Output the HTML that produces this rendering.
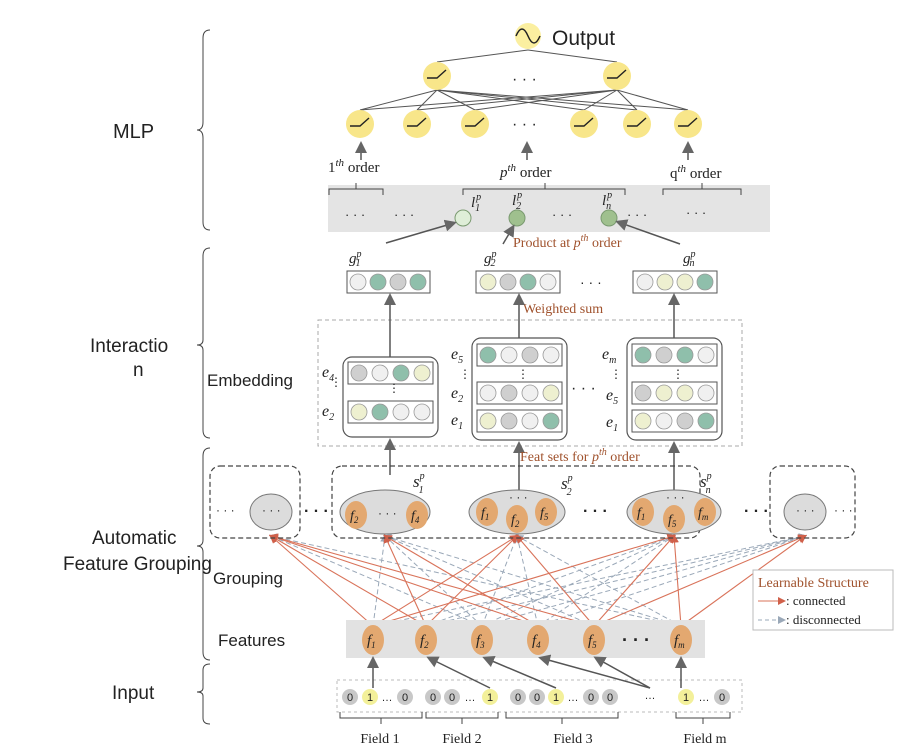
<!DOCTYPE html>
<html><head><meta charset="utf-8"><style>
body{margin:0;background:#fff}
svg{display:block}
.s{font-family:"Liberation Sans",sans-serif;fill:#222}
.r{font-family:"Liberation Serif",serif;fill:#222}
.b{font-family:"Liberation Serif",serif;fill:#a0522d}
.i{font-family:"Liberation Serif",serif;font-style:italic;fill:#222}
</style></head><body>
<svg width="923" height="756" viewBox="0 0 923 756" xmlns="http://www.w3.org/2000/svg">
<defs>
<marker id="ag" markerWidth="8" markerHeight="8" refX="6" refY="4" orient="auto"><path d="M0,0 L8,4 L0,8 z" fill="#666"/></marker>
<marker id="ar" markerWidth="8" markerHeight="8" refX="6" refY="4" orient="auto"><path d="M0,0 L8,4 L0,8 z" fill="#d0604a"/></marker>
<marker id="ab" markerWidth="8" markerHeight="8" refX="6" refY="4" orient="auto"><path d="M0,0 L8,4 L0,8 z" fill="#9aa8b8"/></marker>
</defs>
<!-- braces -->
<g fill="none" stroke="#444" stroke-width="1">
<path d="M210,30 Q203,30 203,38 L203,122 Q203,130 197,130 Q203,130 203,138 L203,222 Q203,230 210,230"/>
<path d="M210,248 Q203,248 203,256 L203,340 Q203,345 197,345 Q203,345 203,350 L203,430 Q203,438 210,438"/>
<path d="M210,448 Q203,448 203,456 L203,540 Q203,546 197,546 Q203,546 203,552 L203,652 Q203,660 210,660"/>
<path d="M210,664 Q203,664 203,670 L203,688 Q203,692 197,692 Q203,692 203,696 L203,718 Q203,724 210,724"/>
</g>
<text class="s" x="113" y="138" font-size="20">MLP</text>
<text class="s" x="90" y="352" font-size="19">Interactio</text>
<text class="s" x="133" y="376" font-size="19">n</text>
<text class="s" x="207" y="386" font-size="17">Embedding</text>
<text class="s" x="92" y="544" font-size="19">Automatic</text>
<text class="s" x="63" y="570" font-size="19">Feature Grouping</text>
<text class="s" x="213" y="584" font-size="17">Grouping</text>
<text class="s" x="218" y="646" font-size="17">Features</text>
<text class="s" x="112" y="699" font-size="19">Input</text>

<!-- MLP -->
<circle cx="528" cy="36" r="13" fill="#fbefa0"/>
<path d="M516,36 Q522,22 528,36 Q534,50 540,36" fill="none" stroke="#222" stroke-width="1.5"/>
<text class="s" x="552" y="45" font-size="21">Output</text>
<g stroke="#555" stroke-width="1">
<line x1="437" y1="62" x2="528" y2="50"/><line x1="617" y1="62" x2="528" y2="50"/>
<line x1="437" y1="90" x2="360" y2="110"/><line x1="437" y1="90" x2="417" y2="110"/><line x1="437" y1="90" x2="475" y2="110"/><line x1="437" y1="90" x2="584" y2="110"/><line x1="437" y1="90" x2="637" y2="110"/><line x1="437" y1="90" x2="688" y2="110"/>
<line x1="617" y1="90" x2="360" y2="110"/><line x1="617" y1="90" x2="417" y2="110"/><line x1="617" y1="90" x2="475" y2="110"/><line x1="617" y1="90" x2="584" y2="110"/><line x1="617" y1="90" x2="637" y2="110"/><line x1="617" y1="90" x2="688" y2="110"/>
</g>
<g fill="#f8e68a">
<circle cx="437" cy="76" r="14"/><circle cx="617" cy="76" r="14"/>
<circle cx="360" cy="124" r="14"/><circle cx="417" cy="124" r="14"/><circle cx="475" cy="124" r="14"/><circle cx="584" cy="124" r="14"/><circle cx="637" cy="124" r="14"/><circle cx="688" cy="124" r="14"/>
</g>
<g fill="none" stroke="#222" stroke-width="1.4">
<path d="M427,78 L437,78 L446,70"/><path d="M607,78 L617,78 L626,70"/>
<path d="M350,126 L360,126 L369,118"/><path d="M407,126 L417,126 L426,118"/><path d="M465,126 L475,126 L484,118"/><path d="M574,126 L584,126 L593,118"/><path d="M627,126 L637,126 L646,118"/><path d="M678,126 L688,126 L697,118"/>
</g>
<text class="s" x="512" y="84" font-size="16">· · ·</text>
<text class="s" x="512" y="129" font-size="16">· · ·</text>
<g stroke="#555" stroke-width="1.5" marker-end="url(#ag)">
<line x1="361" y1="160" x2="361" y2="144"/><line x1="527" y1="160" x2="527" y2="144"/><line x1="688" y1="160" x2="688" y2="144"/>
</g>
<text class="r" x="328" y="172" font-size="15">1<tspan font-style="italic" font-size="11" dy="-6">th</tspan><tspan dy="6"> order</tspan></text>
<text class="r" x="500" y="177" font-size="15"><tspan font-style="italic">p</tspan><tspan font-style="italic" font-size="11" dy="-6">th</tspan><tspan dy="6"> order</tspan></text>
<text class="r" x="670" y="178" font-size="15">q<tspan font-style="italic" font-size="11" dy="-6">th</tspan><tspan dy="6"> order</tspan></text>
<rect x="328" y="185" width="442" height="47" fill="#e4e4e4"/>
<g fill="none" stroke="#444" stroke-width="1">
<path d="M329,195 L329,189 L383,189 L383,195 M356,189 L356,183"/>
<path d="M463,195 L463,189 L625,189 L625,195 M545,189 L545,183"/>
<path d="M663,195 L663,189 L741,189 L741,195 M702,189 L702,183"/>
</g>
<text class="s" x="345" y="219" font-size="13">· · ·</text><text class="s" x="394" y="219" font-size="13">· · ·</text>
<text class="s" x="552" y="219" font-size="13">· · ·</text><text class="s" x="627" y="219" font-size="13">· · ·</text><text class="s" x="686" y="217" font-size="13">· · ·</text>
<circle cx="463" cy="218" r="8" fill="#dfeed8" stroke="#7a9a70"/>
<circle cx="517" cy="218" r="8" fill="#9fc08e" stroke="#7a9a70"/>
<circle cx="609" cy="218" r="8" fill="#9fc08e" stroke="#7a9a70"/>
<text class="i" x="471" y="207" font-size="15">l<tspan font-size="10" dy="-7" dx="1">p</tspan><tspan font-size="10" dy="11" dx="-6">1</tspan></text>
<text class="i" x="512" y="205" font-size="15">l<tspan font-size="10" dy="-7" dx="1">p</tspan><tspan font-size="10" dy="11" dx="-6">2</tspan></text>
<text class="i" x="602" y="205" font-size="15">l<tspan font-size="10" dy="-7" dx="1">p</tspan><tspan font-size="10" dy="11" dx="-6">n</tspan></text>
<!-- product arrows -->
<g stroke="#555" stroke-width="1.5" fill="none" marker-end="url(#ag)">
<line x1="386" y1="243" x2="454" y2="223"/><line x1="503" y1="244" x2="513" y2="227"/><line x1="680" y1="244" x2="618" y2="222"/>
</g>
<text class="b" x="513" y="247" font-size="14">Product at <tspan font-style="italic">p</tspan><tspan font-style="italic" font-size="10" dy="-6">th</tspan><tspan dy="6"> order</tspan></text>
<!-- g vectors -->
<text class="i" x="349" y="263" font-size="15">g<tspan font-size="10" dy="-6">p</tspan><tspan font-size="10" dy="9" dx="-6">1</tspan></text>
<text class="i" x="484" y="263" font-size="15">g<tspan font-size="10" dy="-6">p</tspan><tspan font-size="10" dy="9" dx="-6">2</tspan></text>
<text class="i" x="683" y="263" font-size="15">g<tspan font-size="10" dy="-6">p</tspan><tspan font-size="10" dy="9" dx="-6">n</tspan></text>
<g stroke="#555" fill="#fff">
<rect x="347" y="271" width="83" height="22"/><rect x="476" y="271" width="84" height="22"/><rect x="633" y="271" width="84" height="22"/>
</g>
<g stroke="#999" stroke-width="0.8">
<circle cx="358" cy="282" r="8" fill="#f0f0f0"/><circle cx="378" cy="282" r="8" fill="#8fbfab"/><circle cx="398" cy="282" r="8" fill="#cfcfcf"/><circle cx="418" cy="282" r="8" fill="#8fbfab"/>
<circle cx="488" cy="282" r="8" fill="#eef0d0"/><circle cx="508" cy="282" r="8" fill="#cfcfcf"/><circle cx="528" cy="282" r="8" fill="#8fbfab"/><circle cx="548" cy="282" r="8" fill="#f0f0f0"/>
<circle cx="645" cy="282" r="8" fill="#f0f0f0"/><circle cx="665" cy="282" r="8" fill="#eef0d0"/><circle cx="685" cy="282" r="8" fill="#eef0d0"/><circle cx="705" cy="282" r="8" fill="#8fbfab"/>
</g>
<text class="s" x="580" y="287" font-size="14">· · ·</text>
<text class="b" x="523" y="313" font-size="14">Weighted  sum</text>
<rect x="318" y="320" width="424" height="126" fill="none" stroke="#aaa" stroke-dasharray="4,3"/>
<g stroke="#555" stroke-width="1.5" marker-end="url(#ag)">
<line x1="390" y1="357" x2="390" y2="296"/><line x1="519" y1="338" x2="519" y2="296"/><line x1="674" y1="338" x2="674" y2="296"/>
<line x1="390" y1="475" x2="390" y2="441"/><line x1="519" y1="490" x2="519" y2="444"/><line x1="674" y1="490" x2="674" y2="444"/>
</g>
<g fill="#fff" stroke="#555" stroke-width="1.2">
<rect x="343" y="357" width="95" height="80" rx="9"/><rect x="472" y="338" width="95" height="102" rx="9"/><rect x="627" y="338" width="95" height="102" rx="9"/>
</g>
<g fill="none" stroke="#555">
<rect x="348" y="362" width="85" height="22"/><rect x="348" y="401" width="85" height="22"/>
<rect x="477" y="344" width="85" height="22"/><rect x="477" y="382" width="85" height="22"/><rect x="477" y="410" width="85" height="22"/>
<rect x="632" y="344" width="85" height="22"/><rect x="632" y="382" width="85" height="22"/><rect x="632" y="410" width="85" height="22"/>
</g>
<g stroke="#999" stroke-width="0.8">
<circle cx="359" cy="373" r="8" fill="#cfcfcf"/><circle cx="380" cy="373" r="8" fill="#f0f0f0"/><circle cx="401" cy="373" r="8" fill="#8fbfab"/><circle cx="422" cy="373" r="8" fill="#eef0d0"/>
<circle cx="359" cy="412" r="8" fill="#eef0d0"/><circle cx="380" cy="412" r="8" fill="#8fbfab"/><circle cx="401" cy="412" r="8" fill="#f0f0f0"/><circle cx="422" cy="412" r="8" fill="#f0f0f0"/>
<circle cx="488" cy="355" r="8" fill="#8fbfab"/><circle cx="509" cy="355" r="8" fill="#f0f0f0"/><circle cx="530" cy="355" r="8" fill="#cfcfcf"/><circle cx="551" cy="355" r="8" fill="#f0f0f0"/>
<circle cx="488" cy="393" r="8" fill="#f0f0f0"/><circle cx="509" cy="393" r="8" fill="#cfcfcf"/><circle cx="530" cy="393" r="8" fill="#f0f0f0"/><circle cx="551" cy="393" r="8" fill="#eef0d0"/>
<circle cx="488" cy="421" r="8" fill="#eef0d0"/><circle cx="509" cy="421" r="8" fill="#cfcfcf"/><circle cx="530" cy="421" r="8" fill="#f0f0f0"/><circle cx="551" cy="421" r="8" fill="#8fbfab"/>
<circle cx="643" cy="355" r="8" fill="#8fbfab"/><circle cx="664" cy="355" r="8" fill="#cfcfcf"/><circle cx="685" cy="355" r="8" fill="#8fbfab"/><circle cx="706" cy="355" r="8" fill="#f0f0f0"/>
<circle cx="643" cy="393" r="8" fill="#cfcfcf"/><circle cx="664" cy="393" r="8" fill="#eef0d0"/><circle cx="685" cy="393" r="8" fill="#eef0d0"/><circle cx="706" cy="393" r="8" fill="#f0f0f0"/>
<circle cx="643" cy="421" r="8" fill="#eef0d0"/><circle cx="664" cy="421" r="8" fill="#f0f0f0"/><circle cx="685" cy="421" r="8" fill="#cfcfcf"/><circle cx="706" cy="421" r="8" fill="#8fbfab"/>
</g>
<g class="i" font-size="16">
<text x="322" y="377">e<tspan font-size="10" dy="4">4</tspan></text><text x="322" y="416">e<tspan font-size="10" dy="4">2</tspan></text>
<text x="451" y="359">e<tspan font-size="10" dy="4">5</tspan></text><text x="451" y="398">e<tspan font-size="10" dy="4">2</tspan></text><text x="451" y="425">e<tspan font-size="10" dy="4">1</tspan></text>
<text x="602" y="359">e<tspan font-size="10" dy="4">m</tspan></text><text x="606" y="400">e<tspan font-size="10" dy="4">5</tspan></text><text x="606" y="427">e<tspan font-size="10" dy="4">1</tspan></text>
</g>
<g class="s" font-size="12"><text x="330" y="386">⋮</text><text x="459" y="378">⋮</text><text x="388" y="392">⋮</text><text x="517" y="378">⋮</text><text x="610" y="378">⋮</text><text x="672" y="378">⋮</text></g>
<text class="s" x="571" y="393" font-size="16">· · ·</text>
<text class="b" x="520" y="461" font-size="14">Feat sets for <tspan font-style="italic">p</tspan><tspan font-style="italic" font-size="10" dy="-6">th</tspan><tspan dy="6"> order</tspan></text>

<!-- grouping lines -->
<g stroke="#9aa8b8" stroke-width="1" stroke-dasharray="5,3" marker-end="url(#ab)">
<line x1="373" y1="626" x2="385" y2="536"/><line x1="373" y1="626" x2="805" y2="536"/>
<line x1="426" y1="626" x2="674" y2="536"/><line x1="426" y1="626" x2="805" y2="536"/>
<line x1="482" y1="626" x2="271" y2="536"/><line x1="482" y1="626" x2="385" y2="536"/><line x1="482" y1="626" x2="517" y2="536"/><line x1="482" y1="626" x2="674" y2="536"/><line x1="482" y1="626" x2="805" y2="536"/>
<line x1="538" y1="626" x2="517" y2="536"/><line x1="538" y1="626" x2="674" y2="536"/><line x1="538" y1="626" x2="805" y2="536"/>
<line x1="594" y1="626" x2="385" y2="536"/>
<line x1="681" y1="626" x2="271" y2="536"/><line x1="681" y1="626" x2="385" y2="536"/><line x1="681" y1="626" x2="517" y2="536"/>
</g>
<g stroke="#d9735a" stroke-width="1.1" marker-end="url(#ar)">
<line x1="373" y1="626" x2="271" y2="536"/><line x1="373" y1="626" x2="517" y2="536"/><line x1="373" y1="626" x2="674" y2="536"/>
<line x1="426" y1="626" x2="271" y2="536"/><line x1="426" y1="626" x2="385" y2="536"/><line x1="426" y1="626" x2="517" y2="536"/>
<line x1="538" y1="626" x2="271" y2="536"/><line x1="538" y1="626" x2="385" y2="536"/>
<line x1="594" y1="626" x2="271" y2="536"/><line x1="594" y1="626" x2="517" y2="536"/><line x1="594" y1="626" x2="674" y2="536"/><line x1="594" y1="626" x2="805" y2="536"/>
<line x1="681" y1="626" x2="674" y2="536"/><line x1="681" y1="626" x2="805" y2="536"/>
</g>
<!-- grouping -->
<g fill="none" stroke="#444" stroke-width="1.2" stroke-dasharray="5,3">
<rect x="210" y="466" width="90" height="72" rx="10"/><rect x="332" y="466" width="368" height="72" rx="10"/><rect x="770" y="466" width="85" height="72" rx="10"/>
</g>
<g fill="#dcdcdc" stroke="#777">
<ellipse cx="271" cy="512" rx="21" ry="18"/><ellipse cx="385" cy="512" rx="45" ry="22"/><ellipse cx="517" cy="512" rx="48" ry="22"/><ellipse cx="674" cy="512" rx="47" ry="22"/><ellipse cx="805" cy="512" rx="21" ry="18"/>
</g>
<g fill="#e3a870">
<ellipse cx="356" cy="515" rx="11" ry="14"/><ellipse cx="417" cy="515" rx="11" ry="14"/>
<ellipse cx="487" cy="512" rx="11" ry="14"/><ellipse cx="517" cy="519" rx="11" ry="14"/><ellipse cx="546" cy="512" rx="11" ry="14"/>
<ellipse cx="643" cy="512" rx="11" ry="14"/><ellipse cx="674" cy="519" rx="11" ry="14"/><ellipse cx="705" cy="512" rx="11" ry="14"/>
</g>
<g class="i" font-size="14">
<text x="350" y="520">f<tspan font-size="9" dy="3">2</tspan></text><text x="411" y="520">f<tspan font-size="9" dy="3">4</tspan></text>
<text x="481" y="517">f<tspan font-size="9" dy="3">1</tspan></text><text x="511" y="524">f<tspan font-size="9" dy="3">2</tspan></text><text x="540" y="517">f<tspan font-size="9" dy="3">5</tspan></text>
<text x="637" y="517">f<tspan font-size="9" dy="3">1</tspan></text><text x="668" y="524">f<tspan font-size="9" dy="3">5</tspan></text><text x="698" y="517">f<tspan font-size="9" dy="3">m</tspan></text>
</g>
<g class="s" font-size="12">
<text x="262" y="514">· · ·</text><text x="796" y="514">· · ·</text><text x="378" y="517">· · ·</text><text x="509" y="501">· · ·</text><text x="666" y="501">· · ·</text>
<text x="216" y="514">· · ·</text><text x="834" y="514">· · ·</text>
</g>
<g class="s" font-size="16" font-weight="bold"><text x="304" y="516">· · ·</text><text x="583" y="516">· · ·</text><text x="744" y="516">· · ·</text></g>
<g class="i" font-size="17">
<text x="413" y="487">s<tspan font-size="10" dy="-8">p</tspan><tspan font-size="10" dy="14" dx="-6">1</tspan></text>
<text x="561" y="489">s<tspan font-size="10" dy="-8">p</tspan><tspan font-size="10" dy="14" dx="-6">2</tspan></text>
<text x="700" y="487">s<tspan font-size="10" dy="-8">p</tspan><tspan font-size="10" dy="14" dx="-6">n</tspan></text>
</g>
<!-- features -->
<rect x="346" y="620" width="359" height="38" fill="#e2e2e2"/>
<g fill="#e3a870">
<ellipse cx="373" cy="640" rx="11" ry="15"/><ellipse cx="426" cy="640" rx="11" ry="15"/><ellipse cx="482" cy="640" rx="11" ry="15"/><ellipse cx="538" cy="640" rx="11" ry="15"/><ellipse cx="594" cy="640" rx="11" ry="15"/><ellipse cx="681" cy="640" rx="11" ry="15"/>
</g>
<g class="i" font-size="15">
<text x="367" y="645">f<tspan font-size="9" dy="3">1</tspan></text><text x="420" y="645">f<tspan font-size="9" dy="3">2</tspan></text><text x="476" y="645">f<tspan font-size="9" dy="3">3</tspan></text><text x="532" y="645">f<tspan font-size="9" dy="3">4</tspan></text><text x="588" y="645">f<tspan font-size="9" dy="3">5</tspan></text><text x="674" y="645">f<tspan font-size="9" dy="3">m</tspan></text>
</g>
<text class="s" x="622" y="646" font-size="18" font-weight="bold">· · ·</text>
<!-- legend -->
<rect x="753" y="570" width="140" height="60" fill="#fff" stroke="#bbb"/>
<text class="b" x="758" y="587" font-size="14">Learnable  Structure</text>
<line x1="758" y1="601" x2="784" y2="601" stroke="#d9735a" marker-end="url(#ar)"/>
<text class="r" x="786" y="605" font-size="13">: connected</text>
<line x1="758" y1="620" x2="784" y2="620" stroke="#9aa8b8" stroke-dasharray="4,3" marker-end="url(#ab)"/>
<text class="r" x="786" y="624" font-size="13">: disconnected</text>
<!-- input -->
<rect x="337" y="680" width="405" height="32" fill="none" stroke="#bbb" stroke-dasharray="3,3"/>
<g stroke="#555" stroke-width="1.5" marker-end="url(#ag)">
<line x1="373" y1="688" x2="373" y2="659"/><line x1="490" y1="688" x2="429" y2="658"/><line x1="556" y1="688" x2="485" y2="658"/>
<line x1="650" y1="688" x2="541" y2="658"/><line x1="650" y1="688" x2="596" y2="658"/><line x1="681" y1="688" x2="681" y2="659"/>
</g>
<g stroke="none">
<circle cx="350" cy="697" r="8" fill="#c8c8c8"/><circle cx="370" cy="697" r="8" fill="#f3f09a"/><circle cx="405" cy="697" r="8" fill="#c8c8c8"/>
<circle cx="433" cy="697" r="8" fill="#c8c8c8"/><circle cx="452" cy="697" r="8" fill="#c8c8c8"/><circle cx="490" cy="697" r="8" fill="#f3f09a"/>
<circle cx="518" cy="697" r="8" fill="#c8c8c8"/><circle cx="537" cy="697" r="8" fill="#c8c8c8"/><circle cx="556" cy="697" r="8" fill="#f3f09a"/><circle cx="591" cy="697" r="8" fill="#c8c8c8"/><circle cx="610" cy="697" r="8" fill="#c8c8c8"/>
<circle cx="686" cy="697" r="8" fill="#f3f09a"/><circle cx="722" cy="697" r="8" fill="#c8c8c8"/>
</g>
<g class="s" font-size="11" text-anchor="middle">
<text x="350" y="701">0</text><text x="370" y="701">1</text><text x="387" y="701">…</text><text x="405" y="701">0</text>
<text x="433" y="701">0</text><text x="452" y="701">0</text><text x="470" y="701">…</text><text x="490" y="701">1</text>
<text x="518" y="701">0</text><text x="537" y="701">0</text><text x="556" y="701">1</text><text x="573" y="701">…</text><text x="591" y="701">0</text><text x="610" y="701">0</text>
<text x="650" y="699">…</text><text x="686" y="701">1</text><text x="704" y="701">…</text><text x="722" y="701">0</text>
</g>
<g fill="none" stroke="#444">
<path d="M340,712 L340,718 L422,718 L422,712 M381,718 L381,724"/>
<path d="M426,712 L426,718 L498,718 L498,712 M462,718 L462,724"/>
<path d="M506,712 L506,718 L618,718 L618,712 M562,718 L562,724"/>
<path d="M676,712 L676,718 L730,718 L730,712 M703,718 L703,724"/>
</g>
<g class="r" font-size="14" text-anchor="middle">
<text x="380" y="743">Field 1</text><text x="462" y="743">Field 2</text><text x="573" y="743">Field 3</text><text x="705" y="743">Field m</text>
</g>
</svg>
</body></html>
